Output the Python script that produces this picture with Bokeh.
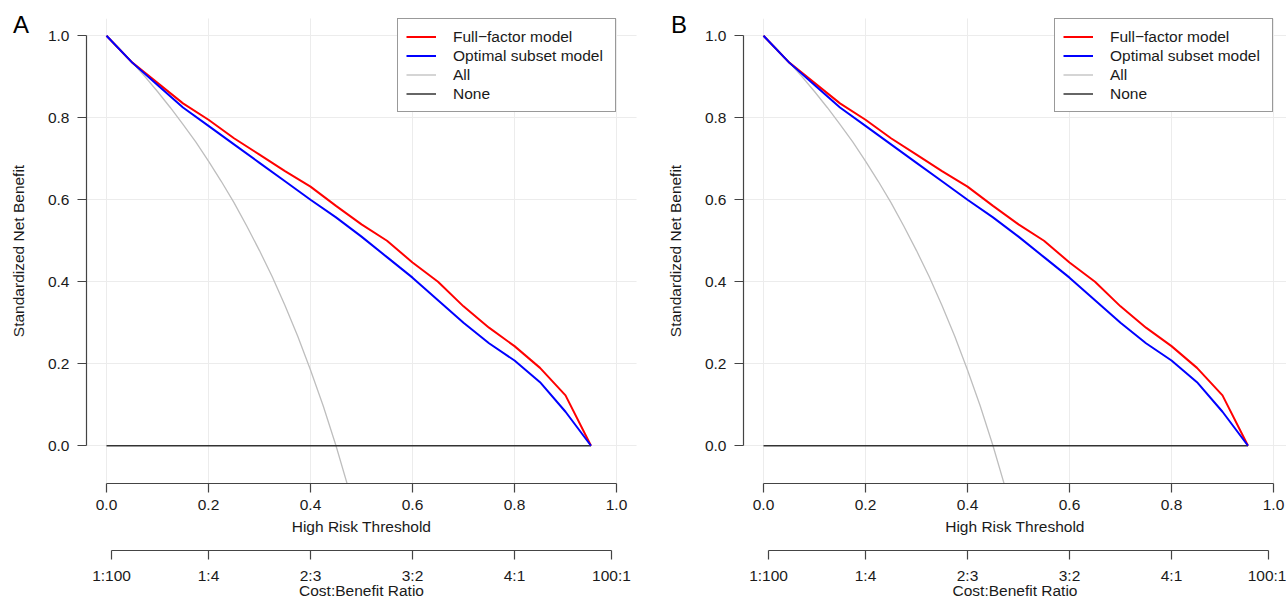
from bokeh.plotting import figure
from bokeh.models import (LinearAxis, FixedTicker, Grid, Legend, LegendItem, Div, GridBox,
                          Range1d, NumeralTickFormatter)
from bokeh.embed import file_html
from bokeh.resources import INLINE

# ---------------- data ----------------
thresholds = [0.00, 0.05, 0.10, 0.15, 0.20, 0.25, 0.30, 0.35, 0.40, 0.45,
              0.50, 0.55, 0.60, 0.65, 0.70, 0.75, 0.80, 0.85, 0.90, 0.95]
full_factor = [1.000, 0.935, 0.885, 0.835, 0.795, 0.750, 0.710, 0.670, 0.632, 0.585,
               0.540, 0.500, 0.447, 0.400, 0.340, 0.288, 0.243, 0.190, 0.123, 0.000]
optimal_subset = [1.000, 0.935, 0.880, 0.825, 0.780, 0.735, 0.690, 0.645, 0.600, 0.557,
                  0.510, 0.460, 0.410, 0.355, 0.300, 0.250, 0.208, 0.155, 0.083, 0.000]
all_thresholds = [0.000, 0.025, 0.050, 0.075, 0.100, 0.125, 0.150, 0.175, 0.200, 0.225,
                  0.250, 0.275, 0.300, 0.325, 0.350, 0.375, 0.400, 0.425, 0.450, 0.475]
all_nb = [1.000, 0.969, 0.936, 0.901, 0.864, 0.825, 0.784, 0.741, 0.694, 0.645,
          0.593, 0.536, 0.476, 0.412, 0.342, 0.267, 0.185, 0.097, 0.000, -0.106]
none_thresholds = [0.00, 0.95]
none_nb = [0.0, 0.0]

x_ticks = [0.0, 0.2, 0.4, 0.6, 0.8, 1.0]
y_ticks = [0.0, 0.2, 0.4, 0.6, 0.8, 1.0]
cb_ticks = [0.0099, 0.2, 0.4, 0.6, 0.8, 0.9901]
cb_labels = ["1:100", "1:4", "2:3", "3:2", "4:1", "100:1"]
series_labels = ["Full\u2212factor model", "Optimal subset model", "All", "None"]
panel_letters = ["A", "B"]

FONT = "Liberation Sans"
FS = "15.5px"
TXT = "#1a1a1a"
AX = "#444444"


def style_axis(ax):
    ax.axis_line_color = AX
    ax.axis_line_width = 1.2
    ax.major_tick_line_color = AX
    ax.major_tick_line_width = 1.2
    ax.major_tick_out = 9
    ax.major_tick_in = 0
    ax.minor_tick_line_color = None
    ax.minor_tick_out = 0
    ax.minor_tick_in = 0
    ax.major_label_text_font = FONT
    ax.major_label_text_font_size = FS
    ax.major_label_text_color = TXT
    ax.axis_label_text_font = FONT
    ax.axis_label_text_font_size = FS
    ax.axis_label_text_font_style = "normal"
    ax.axis_label_text_color = TXT


def make_panel(width, x_start, x_end, right_border):
    p = figure(width=width, height=602, output_backend="svg", toolbar_location=None,
               x_axis_location=None, y_axis_location=None,
               x_range=Range1d(x_start, x_end), y_range=Range1d(-0.092, 1.042),
               min_border_left=86, min_border_right=right_border,
               min_border_top=18, min_border_bottom=119)
    p.outline_line_color = None
    p.background_fill_color = "white"
    p.border_fill_color = "white"

    # grid
    p.add_layout(Grid(dimension=0, ticker=FixedTicker(ticks=x_ticks),
                      grid_line_color="#ececec", grid_line_width=1))
    p.add_layout(Grid(dimension=1, ticker=FixedTicker(ticks=y_ticks),
                      grid_line_color="#ececec", grid_line_width=1))

    # y axis
    yax = LinearAxis(ticker=FixedTicker(ticks=y_ticks), bounds=(0, 1),
                     formatter=NumeralTickFormatter(format="0.0"),
                     axis_label="Standardized Net Benefit")
    style_axis(yax)
    yax.major_label_standoff = 8
    yax.axis_label_standoff = 18
    p.add_layout(yax, "left")

    # x axis (threshold)
    xax = LinearAxis(ticker=FixedTicker(ticks=x_ticks), bounds=(0, 1),
                     formatter=NumeralTickFormatter(format="0.0"),
                     axis_label="High Risk Threshold")
    style_axis(xax)
    xax.major_label_standoff = 7
    xax.axis_label_standoff = 5
    p.add_layout(xax, "below")

    # spacer axis (invisible) to separate the two bottom axes
    gap = LinearAxis(ticker=FixedTicker(ticks=[0.5]), major_label_overrides={0.5: ""},
                     axis_line_color=None, major_tick_line_color=None,
                     minor_tick_line_color=None, major_tick_out=13, major_tick_in=0,
                     minor_tick_out=0, major_label_text_font_size="1px",
                     major_label_standoff=0)
    p.add_layout(gap, "below")

    # cost:benefit axis
    cbax = LinearAxis(ticker=FixedTicker(ticks=cb_ticks), bounds=(cb_ticks[0], cb_ticks[-1]),
                      major_label_overrides={t: l for t, l in zip(cb_ticks, cb_labels)},
                      axis_label="Cost:Benefit Ratio")
    style_axis(cbax)
    cbax.major_label_standoff = 7
    cbax.axis_label_standoff = -5
    p.add_layout(cbax, "below")

    # curves
    r_all = p.line(all_thresholds, all_nb, line_color="#bebebe", line_width=1.3)
    r_none = p.line(none_thresholds, none_nb, line_color="#333333", line_width=1.5)
    r_full = p.line(thresholds, full_factor, line_color="#ff0000", line_width=2)
    r_opt = p.line(thresholds, optimal_subset, line_color="#0000ff", line_width=2)

    legend = Legend(items=[LegendItem(label=series_labels[0], renderers=[r_full]),
                           LegendItem(label=series_labels[1], renderers=[r_opt]),
                           LegendItem(label=series_labels[2], renderers=[r_all]),
                           LegendItem(label=series_labels[3], renderers=[r_none])],
                    location=(311, 371), orientation="vertical",
                    border_line_color="#333333", border_line_width=1.2,
                    background_fill_color="white", background_fill_alpha=1.0,
                    padding=8, spacing=0, margin=0,
                    label_height=19, glyph_height=19, glyph_width=30, label_standoff=17,
                    label_width=154,
                    label_text_font=FONT, label_text_font_size=FS, label_text_color=TXT)
    p.add_layout(legend, "center")
    return p


def letter_div(letter, pad_left):
    html = ('<div style="font-family:\'Liberation Sans\',Arial,sans-serif;font-size:24px;'
            'line-height:24px;color:#000;padding-left:%dpx;padding-top:13px;">%s</div>'
            % (pad_left, letter))
    return Div(text=html, width=40, height=40, margin=0,
               styles={"background": "transparent"})


pA = make_panel(657, -0.0392, 1.0392, 21)
pB = make_panel(629, -0.0392, 1.0255, 0)

layout = GridBox(children=[(pA, 0, 0), (pB, 0, 1),
                           (letter_div(panel_letters[0], 13), 0, 0),
                           (letter_div(panel_letters[1], 14), 0, 1)],
                 spacing=0)
open("out.html", "w").write(file_html(layout, INLINE))
